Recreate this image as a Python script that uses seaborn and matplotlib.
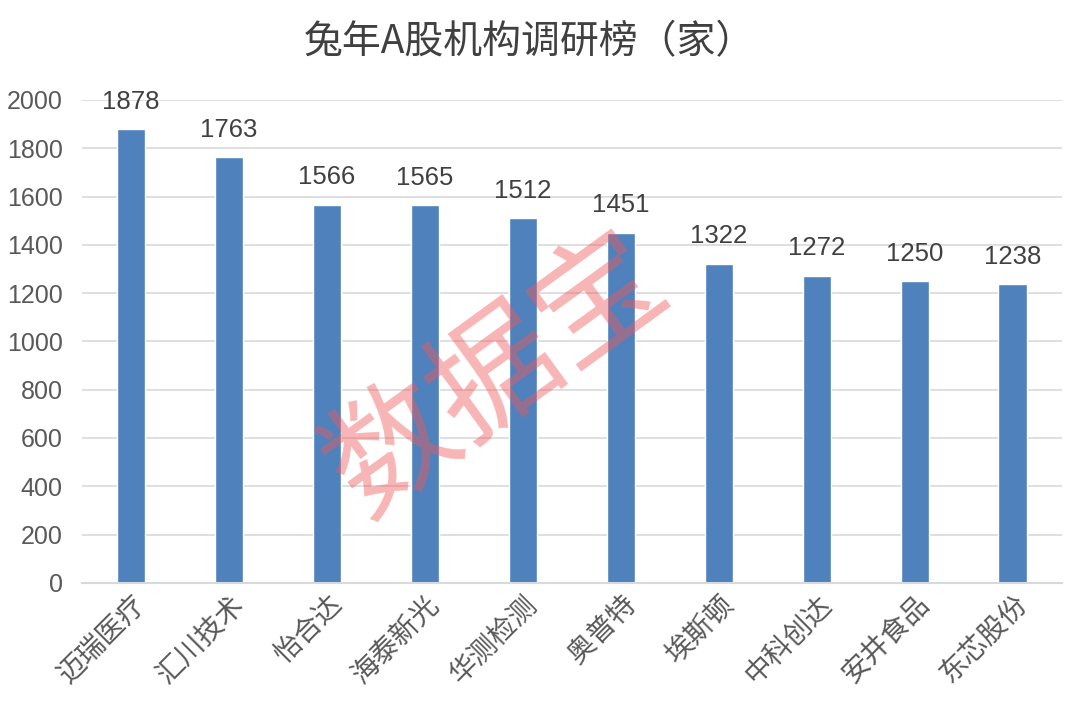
import matplotlib
matplotlib.use('Agg')
import matplotlib.pyplot as plt
import seaborn as sns
import pandas as pd

companies = ['迈瑞医疗', '汇川技术', '怡合达', '海泰新光', '华测检测',
             '奥普特', '埃斯顿', '中科创达', '安井食品', '东芯股份']
visits = [1878, 1763, 1566, 1565, 1512, 1451, 1322, 1272, 1250, 1238]
title = '兔年A股机构调研榜（家）'
watermark = '数据宝'

sns.set_theme(style='white')
plt.rcParams['font.family'] = ['Liberation Sans', 'Noto Sans CJK SC', 'DejaVu Sans']

df = pd.DataFrame({'company': companies, 'visits': visits})

fig = plt.figure(figsize=(10.8, 7.09), dpi=100)
ax = fig.add_axes([0.076, 0.178, 0.907, 0.681])

sns.barplot(data=df, x='company', y='visits', color='#4f81bd', saturation=1,
            width=0.29, ax=ax, zorder=2)

ax.set_ylim(0, 2000)
ax.set_yticks(range(0, 2001, 200))
ax.yaxis.grid(True, color='#d9d9d9', linewidth=1.2, zorder=0)
ax.set_axisbelow(True)
for s in ['top', 'right', 'left']:
    ax.spines[s].set_visible(False)
ax.spines['bottom'].set_color('#d9d9d9')
ax.spines['bottom'].set_linewidth(1.5)
ax.set_xlabel('')
ax.set_ylabel('')
ax.tick_params(axis='y', length=0, labelsize=18, labelcolor='#595959', pad=14)
ax.tick_params(axis='x', length=0, pad=5)
ax.set_xticks(range(len(companies)))
ax.set_xticklabels(companies, rotation=45, ha='right', rotation_mode='anchor',
                   fontsize=20, color='#595959',
                   family=['Noto Sans CJK SC'], fontweight='light')

for i, v in enumerate(visits):
    ax.annotate(str(v), (i, v), xytext=(0, 11), textcoords='offset points',
                ha='center', va='bottom', fontsize=18.5, color='#404040')

fig.text(0.49, 0.94, title, ha='center', va='center', fontsize=28,
         color='#404040', family=['Noto Sans CJK SC'], fontweight='medium')

fig.text(0.46, 0.47, watermark, ha='center', va='center', fontsize=92,
         rotation=36, color='#f05a5a', alpha=0.45,
         family=['Noto Sans CJK SC'], zorder=10)

fig.savefig('out.png', dpi=100)
